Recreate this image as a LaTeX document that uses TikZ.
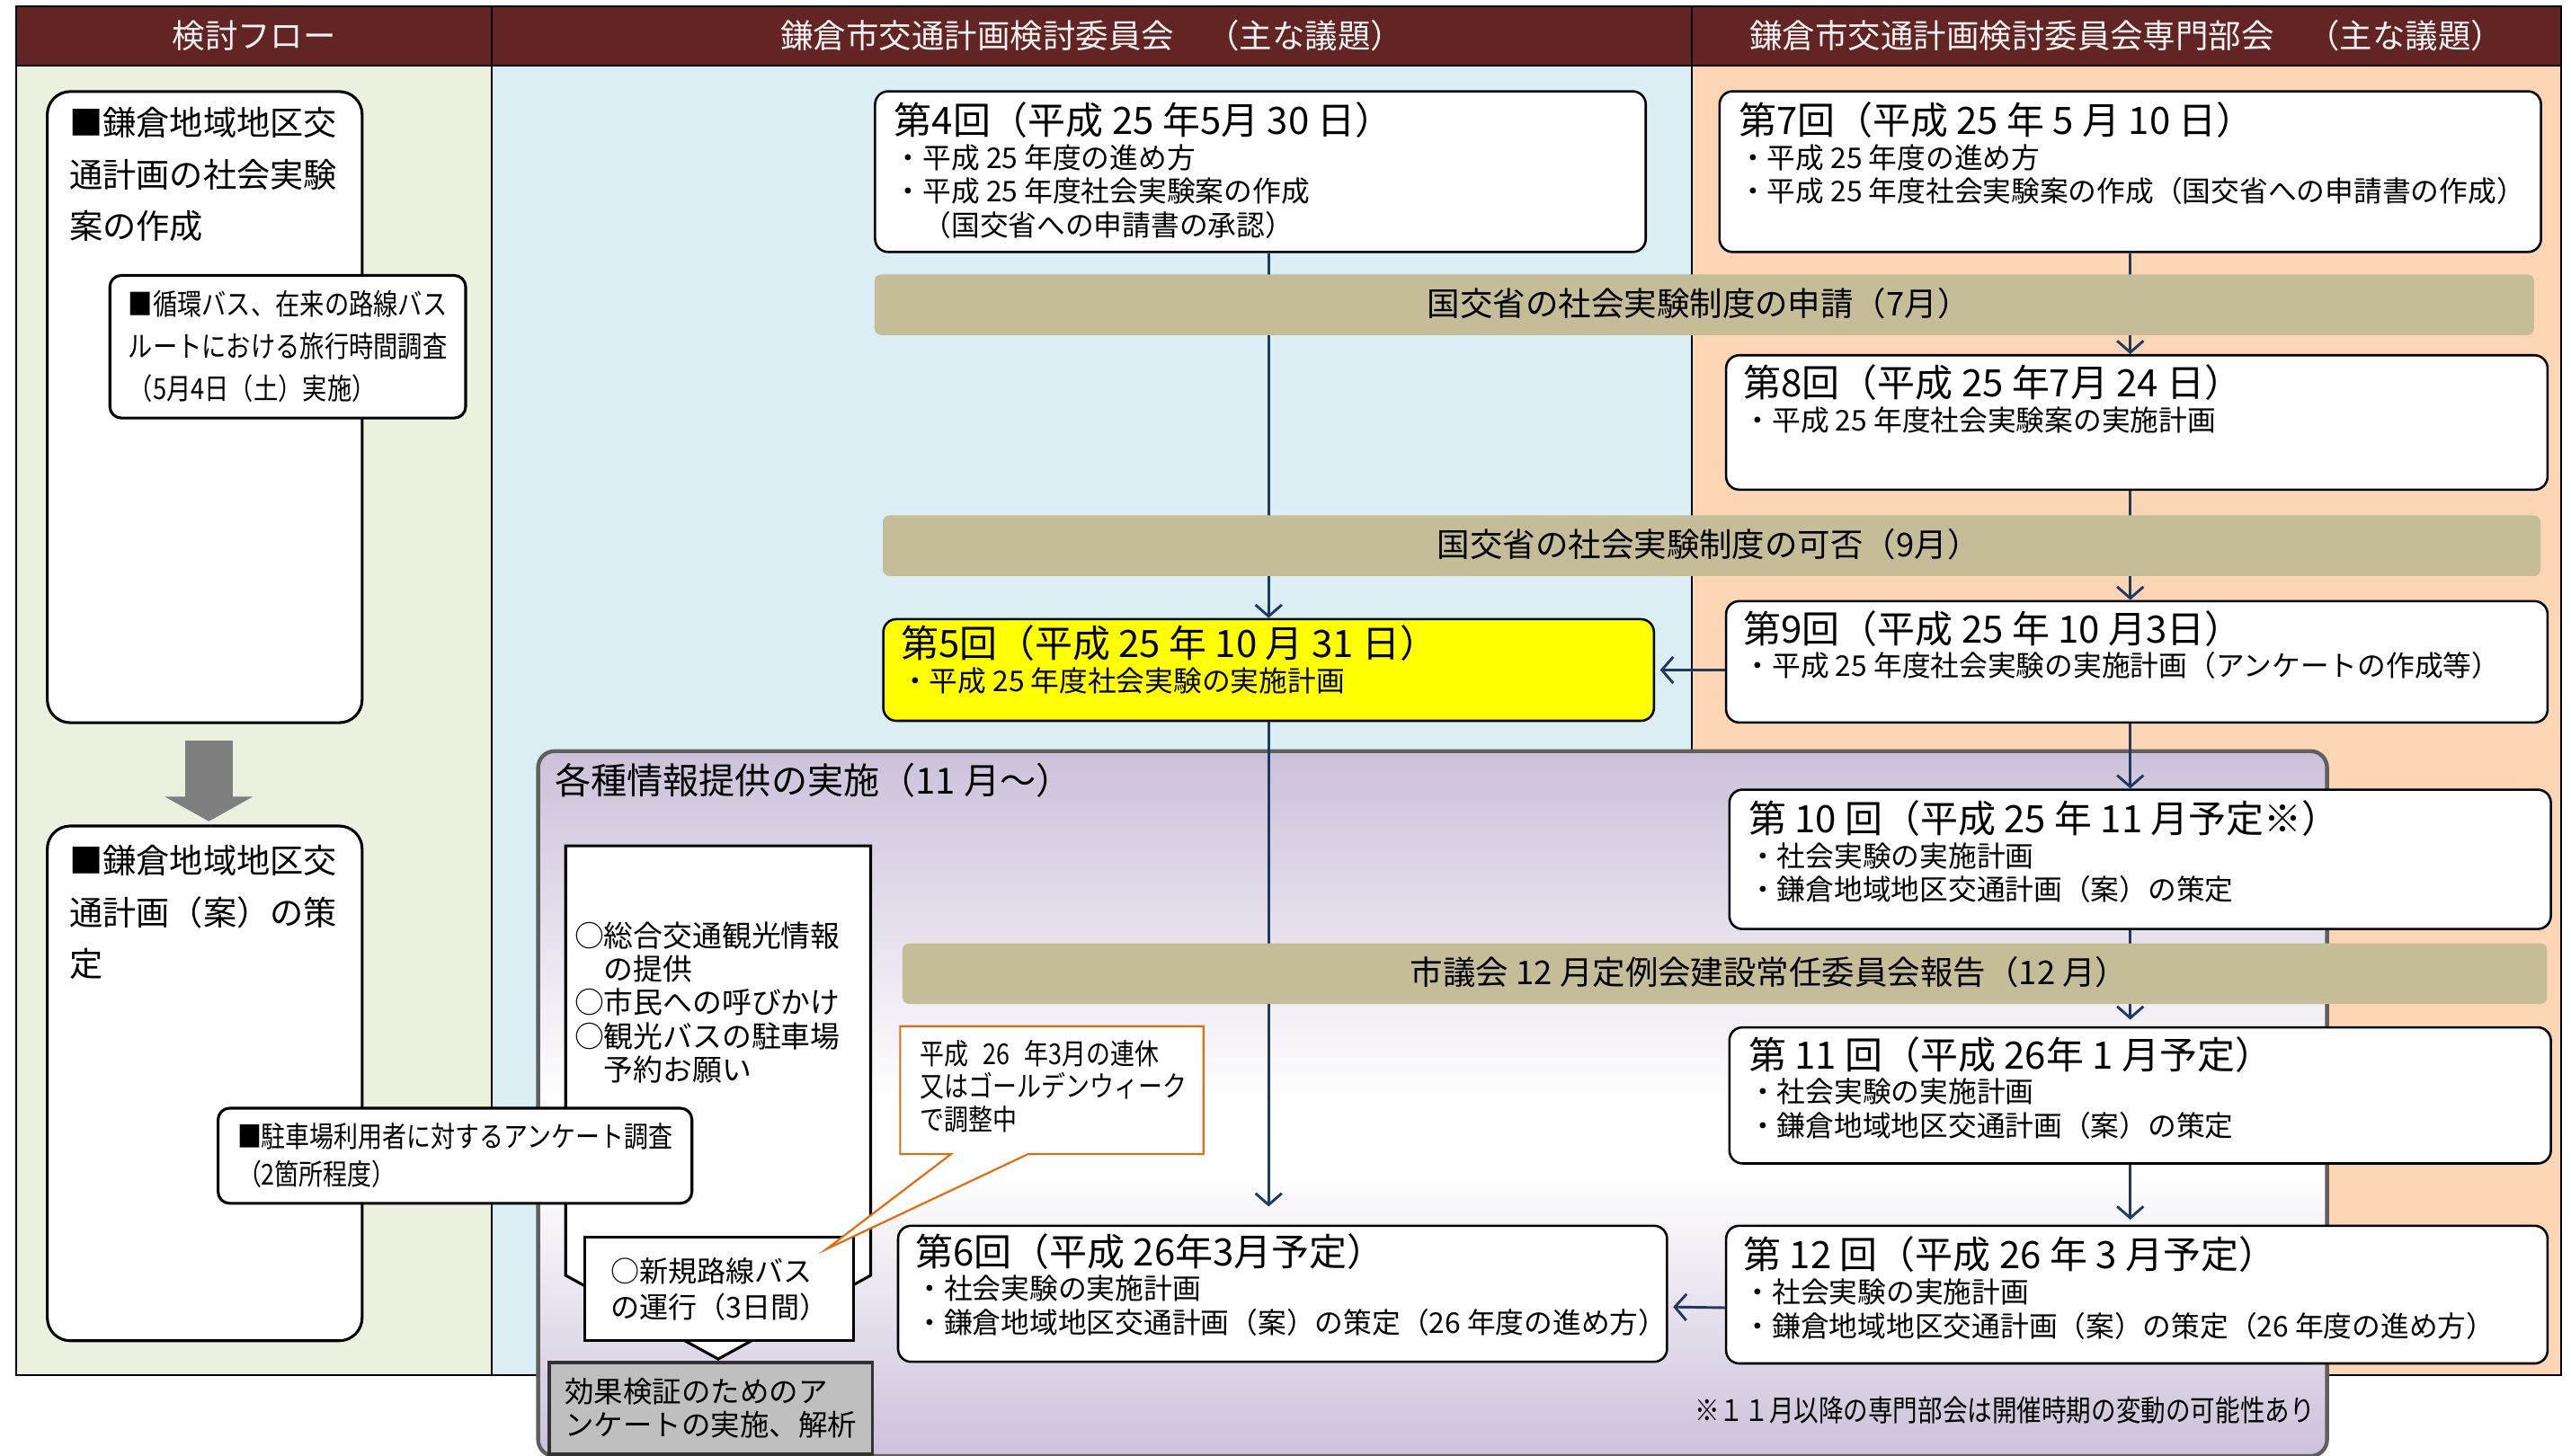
\documentclass[tikz,border=0pt]{standalone}
\usepackage{fontspec}
\setmainfont{Noto Sans CJK JP}
\newfontfamily\narrowjp[FakeStretch=0.84]{Noto Sans CJK JP}
\usepackage{xcolor}
\usepackage{tikz}
\usetikzlibrary{arrows.meta}

\definecolor{hdred}{HTML}{632523}
\definecolor{hdtextcol}{HTML}{F2F2F2}
\definecolor{colgreen}{HTML}{EBF1DE}
\definecolor{colblue}{HTML}{DAEEF3}
\definecolor{colorange}{HTML}{FCD5B5}
\definecolor{bandtan}{HTML}{C4BD97}
\definecolor{infopurple}{HTML}{CCC1DA}
\definecolor{infoborder}{HTML}{5F5F5F}
\definecolor{boxyellow}{HTML}{FFFF00}
\definecolor{flownavy}{HTML}{1F3A60}
\definecolor{arrowgray}{HTML}{7F7F7F}
\definecolor{surveygray}{HTML}{BFBFBF}
\definecolor{calloutorange}{HTML}{E46C0A}

\pgfdeclareverticalshading{infofade}{100bp}{color(0bp)=(infopurple); color(25bp)=(infopurple); color(45bp)=(white); color(50bp)=(white); color(75bp)=(infopurple); color(100bp)=(infopurple)}

\newcommand{\meettitle}[1]{{\fontsize{11.5}{10.3}\selectfont #1}}

\begin{document}
\begin{tikzpicture}[x=0.5pt, y=-0.5pt]
    \tikzset{mtg/.style={draw, line width=0.7pt, rounded corners=4pt, fill=white, anchor=north west, inner sep=0pt}}
    \tikzset{mtgtext/.style={anchor=north west, inner sep=0pt, align=left, font=\fontsize{8.7}{10.3}\selectfont}}
    \tikzset{flowbox/.style={draw, line width=0.85pt, rounded corners=7pt, fill=white, anchor=north west, inner sep=0pt}}
    \tikzset{flowtext/.style={anchor=north west, inner sep=0pt, align=left, font=\fontsize{10.2}{15.8}\selectfont}}
    \tikzset{notebox/.style={draw, line width=0.85pt, rounded corners=3.5pt, fill=white, anchor=north west, inner sep=0pt, align=left}}
    \tikzset{band/.style={fill=bandtan, rounded corners=2pt, anchor=north west, inner sep=0pt}}
    \tikzset{bandtext/.style={inner sep=0pt, font=\fontsize{10}{12}\selectfont}}
    \tikzset{hdtext/.style={inner sep=0pt, text=hdtextcol, font=\fontsize{10}{12}\selectfont}}
    \tikzset{flow/.style={draw=flownavy, line width=0.8pt, -{Straight Barb[length=3.5pt,width=8pt]}}}
    \tikzset{bigarrow/.style={draw=arrowgray, line width=14.5pt, -{Triangle[length=7.5pt,width=26.5pt]}}}

    \useasboundingbox (0,0) rectangle (1568,888);

    % columns and header
    \fill[colgreen] (10,40) rectangle (300,839);
    \fill[colblue] (300,40) rectangle (1032,839);
    \fill[colorange] (1032,40) rectangle (1562,839);
    \fill[hdred] (10,4) rectangle (1562,40);
    \draw[line width=0.5pt] (10,4) rectangle (1562,839);
    \draw[line width=0.5pt] (300,4) -- (300,839);
    \draw[line width=0.5pt] (1032,4) -- (1032,839);
    \draw[line width=0.5pt] (10,40) -- (1562,40);

    \node[hdtext] (hdflow) at (155,22) {検討フロー};
    \node[hdtext] (hdmain) at (666,22) {鎌倉市交通計画検討委員会　（主な議題）};
    \node[hdtext] (hdsub) at (1297,22) {鎌倉市交通計画検討委員会専門部会　（主な議題）};

    % information area
    \node[draw=infoborder, line width=1.2pt, rounded corners=5pt, shading=infofade, anchor=north west, inner sep=0pt,
          minimum width=545.5pt, minimum height=215pt] (info) at (327,457) {};
    \node[anchor=west, inner sep=0pt, font=\fontsize{11}{13}\selectfont] (infot) at (338,476) {各種情報提供の実施（11 月～）};

    % left column
    \node[flowbox, minimum width=96pt, minimum height=192.5pt] (la) at (28,55) {};
    \node[flowtext] (lat) at (42,65) {■鎌倉地域地区交\\通計画の社会実験\\案の作成};
    \node[notebox, minimum width=108.5pt, minimum height=43.5pt, anchor=center,
          font=\narrowjp\fontsize{8.9}{12.9}\selectfont] (lsub) at (175.5,211.5) {■循環バス、在来の路線バス\\ルートにおける旅行時間調査\\（5月4日（土）実施）};
    \node[flowbox, minimum width=96pt, minimum height=157pt] (lb) at (28,503) {};
    \node[flowtext] (lbt) at (42,515) {■鎌倉地域地区交\\通計画（案）の策\\定};
    \draw[bigarrow] ([xshift=1.25pt,yshift=-5pt]la.south) -- ([xshift=1.25pt,yshift=1pt]lb.north);

    % committee meetings
    \node[mtg, minimum width=235pt, minimum height=49pt] (m4) at (533,55) {};
    \node[mtgtext] (m4t) at (545,62) {\meettitle{第4回（平成 25 年5月 30 日）}\\・平成 25 年度の進め方\\・平成 25 年度社会実験案の作成\\　（国交省への申請書の承認）};
    \node[mtg, fill=boxyellow, minimum width=235pt, minimum height=31pt] (m5) at (538,377) {};
    \node[mtgtext] (m5t) at (549,381) {\meettitle{第5回（平成 25 年 10 月 31 日）}\\・平成 25 年度社会実験の実施計画};
    \node[mtg, minimum width=234.5pt, minimum height=41.5pt] (m6) at (547,747) {};
    \node[mtgtext] (m6t) at (558,752) {\meettitle{第6回（平成 26年3月予定）}\\・社会実験の実施計画\\・鎌倉地域地区交通計画（案）の策定（26 年度の進め方）};

    % sub-committee meetings
    \node[mtg, minimum width=250.5pt, minimum height=49pt] (m7) at (1048,55) {};
    \node[mtgtext] (m7t) at (1060,62) {\meettitle{第7回（平成 25 年 5 月 10 日）}\\・平成 25 年度の進め方\\・平成 25 年度社会実験案の作成（国交省への申請書の作成）};
    \node[mtg, minimum width=250.5pt, minimum height=41pt] (m8) at (1052,216) {};
    \node[mtgtext] (m8t) at (1063,222) {\meettitle{第8回（平成 25 年7月 24 日）}\\・平成 25 年度社会実験案の実施計画};
    \node[mtg, minimum width=250.5pt, minimum height=37pt] (m9) at (1052,366) {};
    \node[mtgtext] (m9t) at (1063,372) {\meettitle{第9回（平成 25 年 10 月3日）}\\・平成 25 年度社会実験の実施計画（アンケートの作成等）};
    \node[mtg, minimum width=250.5pt, minimum height=42.5pt] (m10) at (1054,481) {};
    \node[mtgtext] (m10t) at (1066,488) {\meettitle{第 10 回（平成 25 年 11 月予定※）}\\・社会実験の実施計画\\・鎌倉地域地区交通計画（案）の策定};
    \node[mtg, minimum width=250.5pt, minimum height=41.5pt] (m11) at (1054,626) {};
    \node[mtgtext] (m11t) at (1066,632) {\meettitle{第 11 回（平成 26年 1 月予定）}\\・社会実験の実施計画\\・鎌倉地域地区交通計画（案）の策定};
    \node[mtg, minimum width=250.5pt, minimum height=42pt] (m12) at (1052,747) {};
    \node[mtgtext] (m12t) at (1063,754) {\meettitle{第 12 回（平成 26 年 3 月予定）}\\・社会実験の実施計画\\・鎌倉地域地区交通計画（案）の策定（26 年度の進め方）};

    % information measures
    \draw[line width=0.85pt, fill=white] (345,516) -- (531,516) -- (531,778) -- (438,829) -- (345,778) -- cycle;
    \node[anchor=north west, inner sep=0pt, align=left, font=\fontsize{9}{10.2}\selectfont] (infolist) at (350,562)
        {○総合交通観光情報\\　の提供\\○市民への呼びかけ\\○観光バスの駐車場\\　予約お願い};
    \node[draw, line width=0.8pt, fill=white, inner sep=0pt, align=left, anchor=north west,
          minimum width=82pt, minimum height=31.5pt, font=\fontsize{8.8}{11}\selectfont] (newbus) at (356,754) {○新規路線バス\\の運行（3日間）};
    \node[draw=black!80, line width=1pt, fill=surveygray, inner sep=0pt, align=left, anchor=north west,
          minimum width=98.5pt, minimum height=28pt, font=\fontsize{8.9}{10}\selectfont] (effect) at (334,830) {効果検証のためのア\\ンケートの実施、解析};
    \draw[draw=calloutorange, line width=0.6pt, fill=white] (549,626) -- (734,626) -- (734,704) -- (627,704) -- (504,762) -- (580,704) -- (549,704) -- cycle;
    \node[anchor=north west, inner sep=0pt, align=left, font=\narrowjp\fontsize{8.8}{10}\selectfont] (holiday) at (561,634)
        {平成\enspace 26\enspace 年3月の連休\\又はゴールデンウィーク\\で調整中};
    \node[notebox, minimum width=144.5pt, minimum height=29pt, anchor=center,
          font=\narrowjp\fontsize{8.8}{11.5}\selectfont] (survey) at (277.5,705) {■駐車場利用者に対するアンケート調査\\（2箇所程度）};
    \node[anchor=east, inner sep=0pt, font=\narrowjp\fontsize{9}{10}\selectfont] (note) at (1412,860) {※１１月以降の専門部会は開催時期の変動の可能性あり};

    % flow arrows
    \draw[flow] (m5.north |- m4.south) -- (m5.north);
    \draw[flow, shorten >=5.5pt] (m5.south) -- (m5.south |- m6.north);
    \draw[flow] (m7.south) -- (m7.south |- m8.north);
    \draw[flow] (m7.south |- m8.south) -- (m7.south |- m9.north);
    \draw[flow] (m7.south |- m9.south) -- (m7.south |- m10.north);
    \draw[flow, shorten >=2pt] (m7.south |- m10.south) -- (m7.south |- m11.north);
    \draw[flow, shorten >=1.5pt] (m7.south |- m11.south) -- (m7.south |- m12.north);
    \draw[flow, shorten >=1.5pt] (m9.west |- m5.east) -- (m5.east);
    \draw[flow, shorten >=1.5pt] ([yshift=-4pt]m12.west) -- ([yshift=-4pt]m6.east);

    % ministry and council bands
    \node[band, minimum width=506pt, minimum height=18.5pt] (b1) at (533,167) {};
    \node[bandtext] (b1t) at (1036,185) {国交省の社会実験制度の申請（7月）};
    \node[band, minimum width=505.5pt, minimum height=18.5pt] (b2) at (538,314) {};
    \node[bandtext] (b2t) at (1042,332) {国交省の社会実験制度の可否（9月）};
    \node[band, minimum width=501.5pt, minimum height=18.5pt] (b3) at (550,575) {};
    \node[bandtext] (b3t) at (1079,593) {市議会 12 月定例会建設常任委員会報告（12 月）};
\end{tikzpicture}
\end{document}
